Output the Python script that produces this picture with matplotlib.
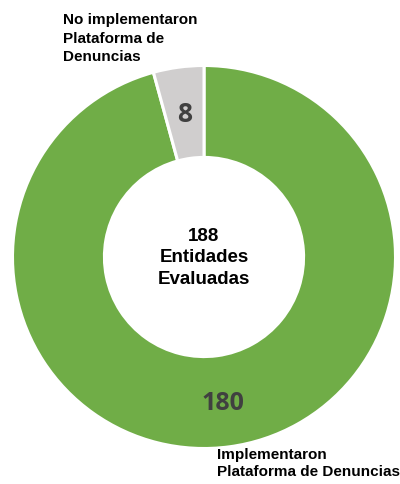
import matplotlib.pyplot as plt

labels = ['Implementaron\nPlataforma de Denuncias', 'No implementaron\nPlataforma de\nDenuncias']
values = [180, 8]
colors = ['#70AD47', '#D0CECE']
total_label = '188\nEntidades\nEvaluadas'

label_font = ['Liberation Sans', 'DejaVu Sans']
value_font = ['Open Sans', 'DejaVu Sans']

W, H = 400, 484
fig = plt.figure(figsize=(W / 100, H / 100), dpi=100)
cx, cy, r = 204, 257, 191.5
ax = fig.add_axes([(cx - r) / W, (H - cy - r) / H, 2 * r / W, 2 * r / H])

wedges, _ = ax.pie(values, colors=colors, startangle=90, counterclock=False,
                   radius=1, wedgeprops=dict(width=0.48, edgecolor='white', linewidth=2.2))
ax.set_xlim(-1, 1)
ax.set_ylim(-1, 1)
ax.set_aspect('equal')
ax.axis('off')

def px(x, y):
    return x / W, 1 - y / H

# texto central
fig.text(*px(204, 258), total_label, ha='center', va='center', family=label_font,
         fontweight='bold', fontsize=13.5, linespacing=1.35)

# valores
fig.text(*px(223, 403), str(values[0]), ha='center', va='center', family=value_font,
         fontweight='bold', fontsize=18, color='#404040')
fig.text(*px(185, 114), str(values[1]), ha='center', va='center', family=value_font,
         fontweight='bold', fontsize=19, color='#404040')

# etiquetas
fig.text(*px(63, 13), labels[1], ha='left', va='top', family=label_font,
         fontweight='bold', fontsize=11, linespacing=1.42)
fig.text(*px(217, 448), labels[0], ha='left', va='top', family=label_font,
         fontweight='bold', fontsize=11, linespacing=1.3)

fig.savefig('out.png', dpi=100)
